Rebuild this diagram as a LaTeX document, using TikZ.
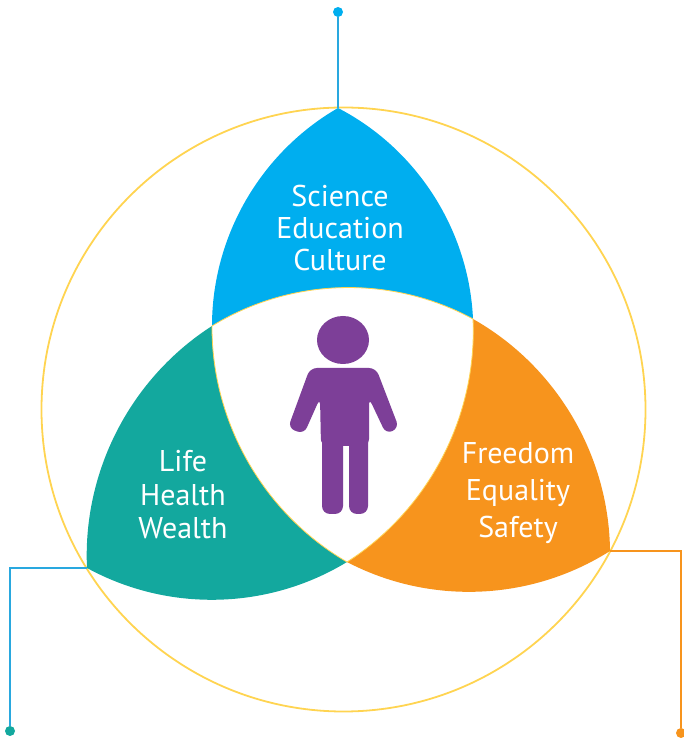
\documentclass[tikz,border=0pt]{standalone}
\usepackage{fontspec}
\setmainfont{PT Sans}

\definecolor{sciblue}{HTML}{00AEEF}
\definecolor{lifeteal}{HTML}{13A89E}
\definecolor{freeorange}{HTML}{F7941D}
\definecolor{personpurple}{HTML}{7D3F98}
\definecolor{ringyellow}{HTML}{FFD451}
\definecolor{wireblue}{HTML}{29A8DF}

\begin{document}
\begin{tikzpicture}[x=1pt, y=1pt,
		petal/.style={bend right=30, looseness=0.91},
		dot/.style={circle, inner sep=0pt, minimum size=10pt},
		wire/.style={line width=1.6pt},
		lbl/.style={text=white, align=center}]
		%%%%% START %%%%%
		\useasboundingbox (0,0) rectangle (683,739);
		
		\coordinate (T) at (338,631);
		\coordinate (A) at (212,413);
		\coordinate (B) at (473,420);
		\coordinate (C) at (347,177);
		\coordinate (L) at (87,171);
		\coordinate (R) at (610,188);
		
		\draw[ringyellow, line width=1.8pt] (343.5,329.5) circle (302pt);
		
		\fill[sciblue] (T) to[petal] (A) to[petal] (B) to[petal] (T);
		\fill[lifeteal] (A) to[petal] (L) to[petal] (C) to[petal] (A);
		\fill[freeorange] (B) to[petal] (C) to[petal] (R) to[petal] (B);
		\draw[fill=white, draw=ringyellow, line width=0.8pt] (A) to[petal] (C) to[petal] (B) to[petal] (A);
		
		\node[lbl, font=\fontsize{30}{32}\selectfont] (sci) at (340,511) {Science\\Education\\Culture};
		\node[lbl, font=\fontsize{30}{33.5}\selectfont] (life) at (183,244) {Life\\Health\\Wealth};
		\node[lbl, font=\fontsize{30}{37}\selectfont] (free) at (518,246) {Freedom\\Equality\\Safety};
		
		% person
		\fill[personpurple] (343,399) ellipse (26pt and 24pt);
		\fill[personpurple, rounded corners=7pt] (310,371) -- (376,371) -- (399,311) -- (386,305) -- (369,341) -- (369,293) -- (321,293) -- (320,341) -- (304,305) -- (288,311) -- cycle;
		\fill[personpurple, rounded corners=8pt] (322,225) rectangle (343,305);
		\fill[personpurple, rounded corners=8pt] (349,225) rectangle (368,305);
		
		\node[dot, fill=sciblue] (dotTop) at (338,727) {};
		\node[dot, fill=lifeteal] (dotLeft) at (10,8) {};
		\node[dot, fill=freeorange] (dotRight) at (681,6) {};
		
		\draw[wire, wireblue] (T) -- (dotTop);
		\draw[wire, wireblue] (L) -| (dotLeft);
		\draw[wire, freeorange] (R) -| (dotRight);
		
		%%%%% END %%%%%
\end{tikzpicture}
\end{document}
